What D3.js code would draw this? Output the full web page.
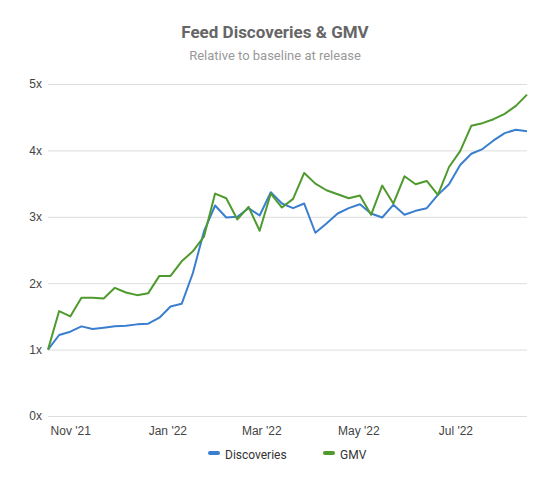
<!DOCTYPE html>
<html><head><meta charset="utf-8">
<script src="https://cdn.jsdelivr.net/npm/d3@7"></script>
<style>body{margin:0;background:#fff;font-family:Roboto,Arial,sans-serif}</style>
</head><body><div id="chart"></div>
<script>
// weekly points starting Oct 18, 2021
var startDate = new Date(2021, 9, 18);
var discoveries = [1.0,1.22,1.27,1.35,1.31,1.33,1.35,1.36,1.38,1.39,1.48,1.65,1.69,2.15,2.78,3.17,2.99,3.0,3.13,3.02,3.37,3.2,3.13,3.2,2.76,2.9,3.05,3.13,3.19,3.05,2.99,3.18,3.03,3.09,3.13,3.33,3.49,3.78,3.95,4.02,4.15,4.26,4.31,4.29];
var gmv = [1.0,1.58,1.5,1.78,1.78,1.77,1.93,1.86,1.82,1.85,2.11,2.11,2.33,2.48,2.7,3.35,3.28,2.96,3.15,2.79,3.35,3.14,3.27,3.66,3.5,3.4,3.34,3.28,3.32,3.03,3.47,3.2,3.61,3.49,3.54,3.33,3.75,3.99,4.37,4.41,4.47,4.55,4.67,4.84];
var yTicks = [0,1,2,3,4,5];
var series = [{name:'Discoveries', values:discoveries, color:'#3a7fcf'},{name:'GMV', values:gmv, color:'#4f9a2d'}];

var width = 550, height = 485,
	margin = {top: 84, right: 23, bottom: 69, left: 48};

var svg = d3.select('#chart').append('svg').attr('width', width).attr('height', height);

var dates = discoveries.map(function(d, i) { return d3.timeWeek.offset(startDate, i); });

var x = d3.scaleTime().domain(d3.extent(dates)).range([margin.left, width - margin.right]);
var y = d3.scaleLinear().domain([0, 5]).range([height - margin.bottom, margin.top]);

// title
svg.append('text').attr('x', width / 2).attr('y', 38).attr('text-anchor', 'middle')
	.attr('font-size', 17).attr('font-weight', 'bold').attr('fill', '#666').text('Feed Discoveries & GMV');
svg.append('text').attr('x', width / 2).attr('y', 60).attr('text-anchor', 'middle')
	.attr('font-size', 13).attr('fill', '#999').text('Relative to baseline at release');

// grid + y labels
var yAxis = svg.append('g').attr('transform', 'translate(' + margin.left + ',0)')
	.call(d3.axisLeft(y).tickValues(yTicks).tickSize(-(width - margin.left - margin.right)).tickFormat(function(d) { return d + 'x'; }));
yAxis.select('.domain').remove();
yAxis.selectAll('line').attr('stroke', '#ddd');
yAxis.selectAll('text').attr('font-size', 12).attr('fill', '#444').attr('x', -6);

// x labels
var xAxis = svg.append('g').attr('transform', 'translate(0,' + (height - margin.bottom) + ')')
	.call(d3.axisBottom(x).ticks(d3.timeMonth.every(2)).tickSize(0).tickFormat(function(d) { return d3.timeFormat('%b \'%y')(d); }));
xAxis.select('.domain').remove();
xAxis.selectAll('text').attr('font-size', 12).attr('fill', '#444').attr('dy', '1.3em');

var line = d3.line().x(function(d, i) { return x(dates[i]); }).y(function(d) { return y(d); });

series.forEach(function(s) {
	svg.append('path').datum(s.values).attr('d', line)
		.attr('fill', 'none').attr('stroke', s.color).attr('stroke-width', 2).attr('stroke-linejoin', 'round');
});

// legend
var legend = svg.append('g').attr('transform', 'translate(208,455)');
var lx = 0;
series.forEach(function(s) {
	legend.append('rect').attr('x', lx).attr('y', -4).attr('width', 12).attr('height', 4).attr('rx', 2).attr('fill', s.color);
	legend.append('text').attr('x', lx + 17).attr('y', 4).attr('font-size', 12).attr('fill', '#333').text(s.name);
	lx += s.name.length * 7 + 38;
});
</script></body></html>
